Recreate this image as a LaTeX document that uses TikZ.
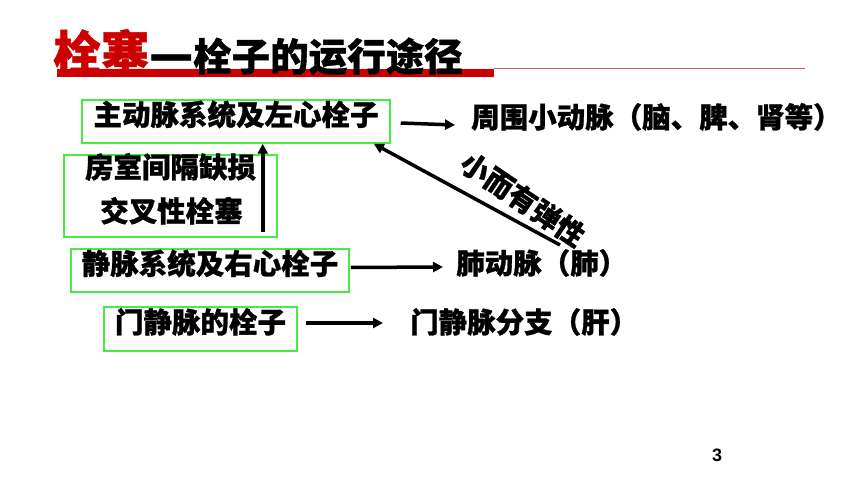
\documentclass[tikz,border=0pt]{standalone}
\usepackage{fontspec}
\usepackage{graphicx}
\setmainfont{Liberation Sans}
\newfontfamily\cjk[BoldFeatures={FakeBold=1}]{Noto Sans CJK SC}
\usetikzlibrary{arrows.meta}
\definecolor{boxgreen}{RGB}{70,235,70}
\definecolor{titlered}{RGB}{204,0,0}
\definecolor{linered}{RGB}{215,90,90}
\begin{document}
\begin{tikzpicture}[x=1pt,y=-1pt,
  txt/.style={font=\cjk\bfseries\fontsize{28.5}{30}\selectfont, inner sep=0pt, text height=0.83em, text depth=0.07em},
  gbox/.style={draw=boxgreen, line width=1.5pt, inner sep=0pt},
  arr/.style={line width=3.5pt, -{Triangle[length=10pt,width=10pt]}}]
\useasboundingbox (0,0) rectangle (860,484);
% title
\fill[titlered] (57,69) rectangle (494,77);
\draw[linered, line width=1pt] (494,68.5) -- (805,68.5);
\node[anchor=base west, inner sep=0pt] (title) at (53,71)
  {\cjk\bfseries{\color{titlered}\fontsize{48}{50}\selectfont 栓塞}{\fontsize{38.5}{42}\selectfont \raisebox{-1pt}{\scalebox{1.25}[1.3]{—}}栓子的运行途径}};
% boxes
\node[gbox, txt, minimum width=308pt, minimum height=43pt] (b1) at (236,121.5) {主动脉系统及左心栓子};
\node[gbox, minimum width=213pt, minimum height=82pt] (b2) at (170.5,196) {};
\node[txt] (l1) at (170.5,174) {房室间隔缺损};
\node[txt] (l2) at (171.5,218) {交叉性栓塞};
\node[gbox, txt, minimum width=278pt, minimum height=43pt] (b3) at (210,270.5) {静脉系统及右心栓子};
\node[gbox, txt, minimum width=193pt, minimum height=44pt] (b4) at (200.5,329) {门静脉的栓子};
% targets
\node[txt, anchor=west] (t1) at (471,124) {周围小动脉（脑、脾、肾等）};
\node[txt, anchor=west] (t3) at (456,270) {肺动脉（肺）};
\node[txt, anchor=west] (t4) at (410,329) {门静脉分支（肝）};
% arrows
\draw[arr] ([xshift=10pt,yshift=-1.5pt]b1.east) -- ([xshift=-16pt,yshift=-1pt]t1.west);
\draw[arr] ([xshift=1pt,yshift=3pt]b3.east) -- ([xshift=-13pt,yshift=3pt]t3.west);
\draw[arr] ([xshift=8pt,yshift=6pt]b4.east) -- ([xshift=-27pt,yshift=6pt]t4.west);
\coordinate (vs) at ([xshift=-15pt,yshift=6pt]b2.south east);
\draw[arr] (vs) -- (vs |- b1.south);
\coordinate (ds) at (560,245);
\draw[arr] (ds) -- ([xshift=-17pt]b1.south east);
\node[txt, rotate=-34] (lab) at (519,205) {小而有弹性};
% page number
\node[font=\bfseries\fontsize{18}{20}\selectfont, inner sep=0pt] (pg) at (717,455.5) {3};
\end{tikzpicture}
\end{document}
